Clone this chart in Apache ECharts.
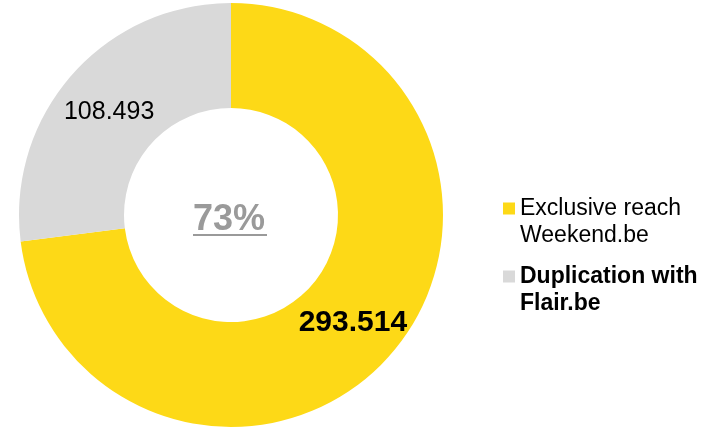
<!DOCTYPE html>
<html>
<head>
<meta charset="utf-8">
<script src="https://cdn.jsdelivr.net/npm/echarts@6/dist/echarts.min.js"></script>
<style>
  html, body { margin: 0; padding: 0; background: #ffffff; }
  #chart { width: 725px; height: 429px; }
</style>
</head>
<body>
<div id="chart"></div>
<script>
// reach figures
const segNames = ['Exclusive reach\nWeekend.be', 'Duplication with\nFlair.be'];
const segValues = [293.514, 108.493];
const segColors = ['#FDD917', '#D9D9D9'];
const centerText = '73%';

const chart = echarts.init(document.getElementById('chart'), null, { renderer: 'canvas' });

const fmt = v => v.toFixed(3);

const option = {
  backgroundColor: '#ffffff',
  animation: false,
  color: segColors,
  legend: {
    orient: 'vertical',
    left: 498,
    top: 163,
    icon: 'rect',
    itemWidth: 12,
    itemHeight: 12,
    itemGap: -13,
    selectedMode: false,
    // empty first line so the square sits beside the first text line
    formatter: name => '\n' + name,
    textStyle: {
      fontFamily: 'Liberation Sans, Arial, sans-serif',
      fontSize: 23,
      lineHeight: 27,
      color: '#000000'
    },
    data: [
      { name: segNames[0], textStyle: { fontWeight: 'normal' } },
      { name: segNames[1], textStyle: { fontWeight: 'bold' } }
    ]
  },
  graphic: [
    {
      type: 'text',
      left: 193,
      top: 202,
      style: {
        text: centerText,
        fontFamily: 'Liberation Sans, Arial, sans-serif',
        fontSize: 36,
        fontWeight: 'bold',
        fill: '#9A9A9A'
      }
    },
    {
      type: 'rect',
      left: 193,
      top: 234,
      shape: { width: 74, height: 2 },
      style: { fill: '#9A9A9A' }
    }
  ],
  series: [{
    type: 'pie',
    center: [231, 215],
    radius: [107, 212],
    startAngle: 90,
    clockwise: true,
    silent: true,
    itemStyle: { borderWidth: 0 },
    labelLine: { show: false },
    label: {
      show: true,
      position: 'inside',
      fontFamily: 'Liberation Sans, Arial, sans-serif',
      color: '#000000',
      formatter: p => fmt(p.value)
    },
    data: [
      { name: segNames[0], value: segValues[0],
        label: { fontSize: 30, fontWeight: 'bold' } },
      { name: segNames[1], value: segValues[1],
        label: { fontSize: 25, fontWeight: 'normal', offset: [0, 5] } }
    ]
  }]
};

chart.setOption(option);
</script>
</body>
</html>
